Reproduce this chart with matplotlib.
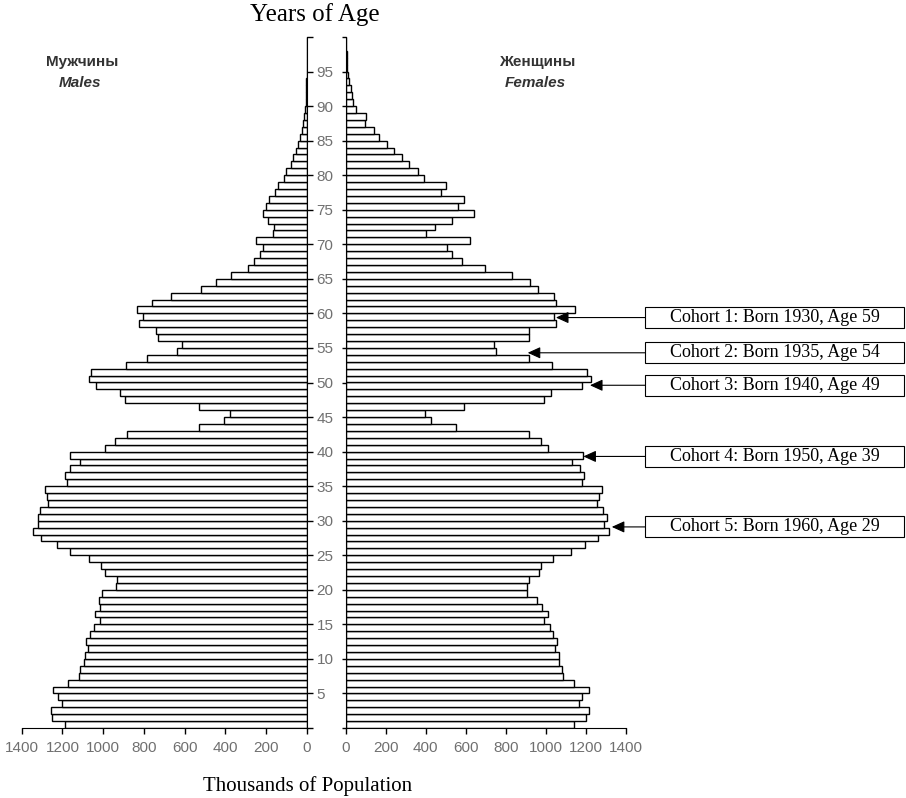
import matplotlib.pyplot as plt
import matplotlib.transforms as mtransforms
from matplotlib.patches import Rectangle

# age groups 0..99, thousands of people
ages = list(range(100))
males = [1187, 1253, 1257, 1204, 1224, 1245, 1175, 1120, 1114, 1094,
         1091, 1074, 1084, 1063, 1045, 1017, 1038, 1017, 1023, 1006,
         937, 931, 990, 1009, 1069, 1164, 1229, 1306, 1346, 1319,
         1322, 1309, 1270, 1276, 1284, 1178, 1187, 1164, 1115, 1164,
         993, 942, 885, 528, 409, 380, 528, 895, 918, 1037,
         1069, 1061, 890, 787, 637, 613, 733, 740, 825, 803,
         833, 763, 667, 520, 445, 372, 290, 258, 230, 217,
         251, 168, 161, 192, 218, 200, 187, 155, 143, 114,
         101, 80, 70, 52, 46, 34, 26, 18, 15, 8,
         6, 5, 4, 3, 2, 1, 1, 1, 1, 1]
females = [1140, 1200, 1214, 1165, 1180, 1214, 1142, 1087, 1082, 1065,
           1064, 1047, 1054, 1037, 1020, 992, 1011, 982, 954, 906,
           906, 916, 964, 977, 1037, 1124, 1195, 1262, 1315, 1290,
           1304, 1287, 1257, 1265, 1282, 1180, 1192, 1170, 1132, 1185,
           1012, 974, 917, 551, 426, 398, 591, 991, 1024, 1179,
           1225, 1207, 1032, 916, 749, 742, 916, 916, 1050, 1042,
           1144, 1050, 1042, 962, 921, 832, 696, 583, 529, 504,
           621, 401, 448, 529, 643, 563, 591, 476, 500, 389,
           360, 318, 280, 241, 205, 168, 143, 98, 101, 51,
           38, 30, 25, 18, 13, 8, 5, 4, 3, 2]

cohort_labels = ["Cohort 1: Born 1930, Age 59",
                 "Cohort 2: Born 1935, Age 54",
                 "Cohort 3: Born 1940, Age 49",
                 "Cohort 4: Born 1950, Age 39",
                 "Cohort 5: Born 1960, Age 29"]
arrow_age = [59.4, 54.3, 49.6, 39.3, 29.1]
arrow_tip = [1050, 909, 1220, 1187, 1329]

W, H = 906, 798
GRAY = '#707070'
SANS = 'Liberation Sans'
SERIF = 'Liberation Serif'

fig = plt.figure(figsize=(W / 100, H / 100), dpi=100)

axm = fig.add_axes([21.7 / W, 1 - 728 / H, 285.3 / W, 691 / H])
axf = fig.add_axes([345.7 / W, 1 - 728 / H, 280.3 / W, 691 / H])

axm.barh(ages, males, height=1, align='edge', color='white',
         edgecolor='black', linewidth=1.0)
axf.barh(ages, females, height=1, align='edge', color='white',
         edgecolor='black', linewidth=1.0)

axm.set_xlim(1400, 0)
axf.set_xlim(0, 1400)
for ax in (axm, axf):
    ax.set_ylim(0, 100)
    ax.set_xticks(range(0, 1401, 200))
    ax.set_yticks(range(0, 101, 5))
    ax.spines['top'].set_visible(False)
    ax.tick_params(axis='x', direction='out', length=4, width=1,
                   pad=5, labelsize=11, labelcolor=GRAY)
    for lab in ax.get_xticklabels():
        lab.set_family(SANS)

axm.spines['left'].set_visible(False)
axm.yaxis.tick_right()
axm.set_yticklabels(['' if a in (0, 100) else str(a) for a in range(0, 101, 5)],
                    family=SANS)
axm.tick_params(axis='y', direction='out', length=4.5, width=1, pad=2.5,
                labelsize=11, labelcolor=GRAY)

axf.spines['right'].set_visible(False)
axf.set_yticklabels([])
axf.tick_params(axis='y', direction='out', length=3, width=1)

# titles
fig.text(315 / W, 1 - 15 / H, 'Years of Age', ha='center', va='center',
         family=SERIF, size=18)
fig.text(308 / W, 1 - 786 / H, 'Thousands of Population', ha='center',
         va='center', family=SERIF, size=15)

fig.text(82 / W, 1 - 62 / H, 'Мужчины', ha='center', va='center',
         family=SANS, weight='bold', size=11, color='#333333')
fig.text(80 / W, 1 - 83 / H, 'Males', ha='center', va='center',
         family=SANS, weight='bold', style='italic', size=11, color='#333333')
fig.text(537 / W, 1 - 62 / H, 'Женщины', ha='center', va='center',
         family=SANS, weight='bold', size=11, color='#333333')
fig.text(535 / W, 1 - 83 / H, 'Females', ha='center', va='center',
         family=SANS, weight='bold', style='italic', size=11, color='#333333')

# cohort boxes with arrows
tr = mtransforms.blended_transform_factory(fig.transFigure, axf.transData)
px_per_year = 691 / 100
for label, a, tip in zip(cohort_labels, arrow_age, arrow_tip):
    h = 21 / px_per_year
    rect = Rectangle((645 / W, a - h / 2), 259 / W, h, transform=tr,
                     facecolor='white', edgecolor='black', linewidth=0.8,
                     clip_on=False)
    fig.add_artist(rect)
    fig.text(774.5 / W, a, label, transform=tr, ha='center', va='center',
             family=SERIF, size=13)
    axf.annotate('', xy=(tip, a), xycoords='data',
                 xytext=(645 / W, a), textcoords=tr,
                 arrowprops=dict(arrowstyle='-|>,head_length=0.77,head_width=0.35',
                                 mutation_scale=10, color='black', lw=0.8,
                                 shrinkA=0, shrinkB=0),
                 annotation_clip=False)

fig.savefig('out.png', dpi=100)
